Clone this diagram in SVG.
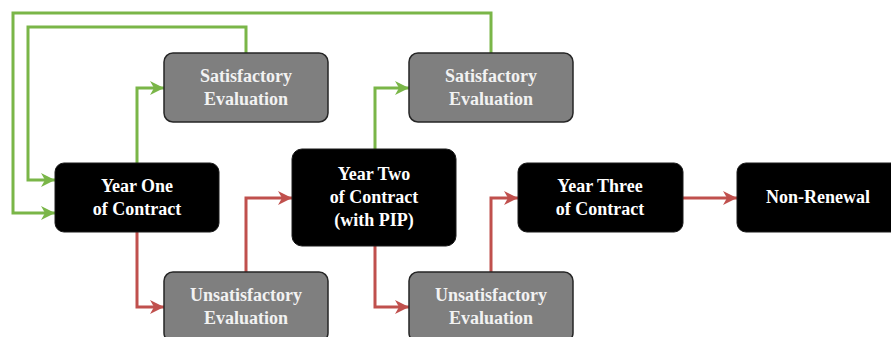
<svg xmlns="http://www.w3.org/2000/svg" width="891" height="337" viewBox="0 0 891 337">
<defs>
<style>
.blk{fill:#000;stroke:#1a1a1a;stroke-width:1}
.gry{fill:#7f7f7f;stroke:#262626;stroke-width:1.5}
.g{fill:none;stroke:#7ab648;stroke-width:3}
.r{fill:none;stroke:#c0504d;stroke-width:3}
</style>
<marker id="ag" markerUnits="userSpaceOnUse" markerWidth="16" markerHeight="16" refX="15" refY="8" orient="auto" viewBox="0 0 16 16">
<path d="M1,1 L15,8 L1,15 L5,8 Z" fill="#7ab648"/>
</marker>
<marker id="ar" markerUnits="userSpaceOnUse" markerWidth="16" markerHeight="16" refX="15" refY="8" orient="auto" viewBox="0 0 16 16">
<path d="M1,1 L15,8 L1,15 L5,8 Z" fill="#c0504d"/>
</marker>
</defs>
<rect width="891" height="337" fill="#fff"/>
<g id="connectors">
<polyline class="g" points="491,53 491,13 13,13 13,213 55,213" marker-end="url(#ag)"/>
<polyline class="g" points="246,53 246,27 28,27 28,180 55,180" marker-end="url(#ag)"/>
<polyline class="g" points="137,163 137,88 164,88" marker-end="url(#ag)"/>
<polyline class="g" points="375,149 375,88 409,88" marker-end="url(#ag)"/>
<polyline class="r" points="137,232 137,307 164,307" marker-end="url(#ar)"/>
<polyline class="r" points="246,272 246,198 292,198" marker-end="url(#ar)"/>
<polyline class="r" points="375,246 375,307 409,307" marker-end="url(#ar)"/>
<polyline class="r" points="491,272 491,198 518,198" marker-end="url(#ar)"/>
<polyline class="r" points="683,198 737,198" marker-end="url(#ar)"/>
</g>
<g font-family="Liberation Serif, serif" font-weight="bold" font-size="18" text-anchor="middle">
<g id="year-one">
<rect class="blk" x="55" y="163" width="164" height="69" rx="9"/>
<text fill="#fff" x="137" y="192">Year One</text>
<text fill="#fff" x="137" y="215">of Contract</text>
</g>
<g id="sat-1">
<rect class="gry" x="164" y="53" width="164" height="69" rx="9"/>
<text fill="#f2f2f2" x="246" y="82">Satisfactory</text>
<text fill="#f2f2f2" x="246" y="105">Evaluation</text>
</g>
<g id="unsat-1">
<rect class="gry" x="164" y="272" width="164" height="70" rx="9"/>
<text fill="#f2f2f2" x="246" y="301">Unsatisfactory</text>
<text fill="#f2f2f2" x="246" y="324">Evaluation</text>
</g>
<g id="year-two">
<rect class="blk" x="292" y="149" width="164" height="97" rx="10"/>
<text fill="#fff" x="374" y="180">Year Two</text>
<text fill="#fff" x="374" y="203">of Contract</text>
<text fill="#fff" x="374" y="226">(with PIP)</text>
</g>
<g id="sat-2">
<rect class="gry" x="409" y="53" width="164" height="69" rx="9"/>
<text fill="#f2f2f2" x="491" y="82">Satisfactory</text>
<text fill="#f2f2f2" x="491" y="105">Evaluation</text>
</g>
<g id="unsat-2">
<rect class="gry" x="409" y="272" width="164" height="70" rx="9"/>
<text fill="#f2f2f2" x="491" y="301">Unsatisfactory</text>
<text fill="#f2f2f2" x="491" y="324">Evaluation</text>
</g>
<g id="year-three">
<rect class="blk" x="518" y="163" width="165" height="69" rx="9"/>
<text fill="#fff" x="600" y="192">Year Three</text>
<text fill="#fff" x="600" y="215">of Contract</text>
</g>
<g id="non-renewal">
<rect class="blk" x="737" y="163" width="164" height="69" rx="9"/>
<text fill="#fff" x="818" y="203">Non-Renewal</text>
</g>
</g>
</svg>
